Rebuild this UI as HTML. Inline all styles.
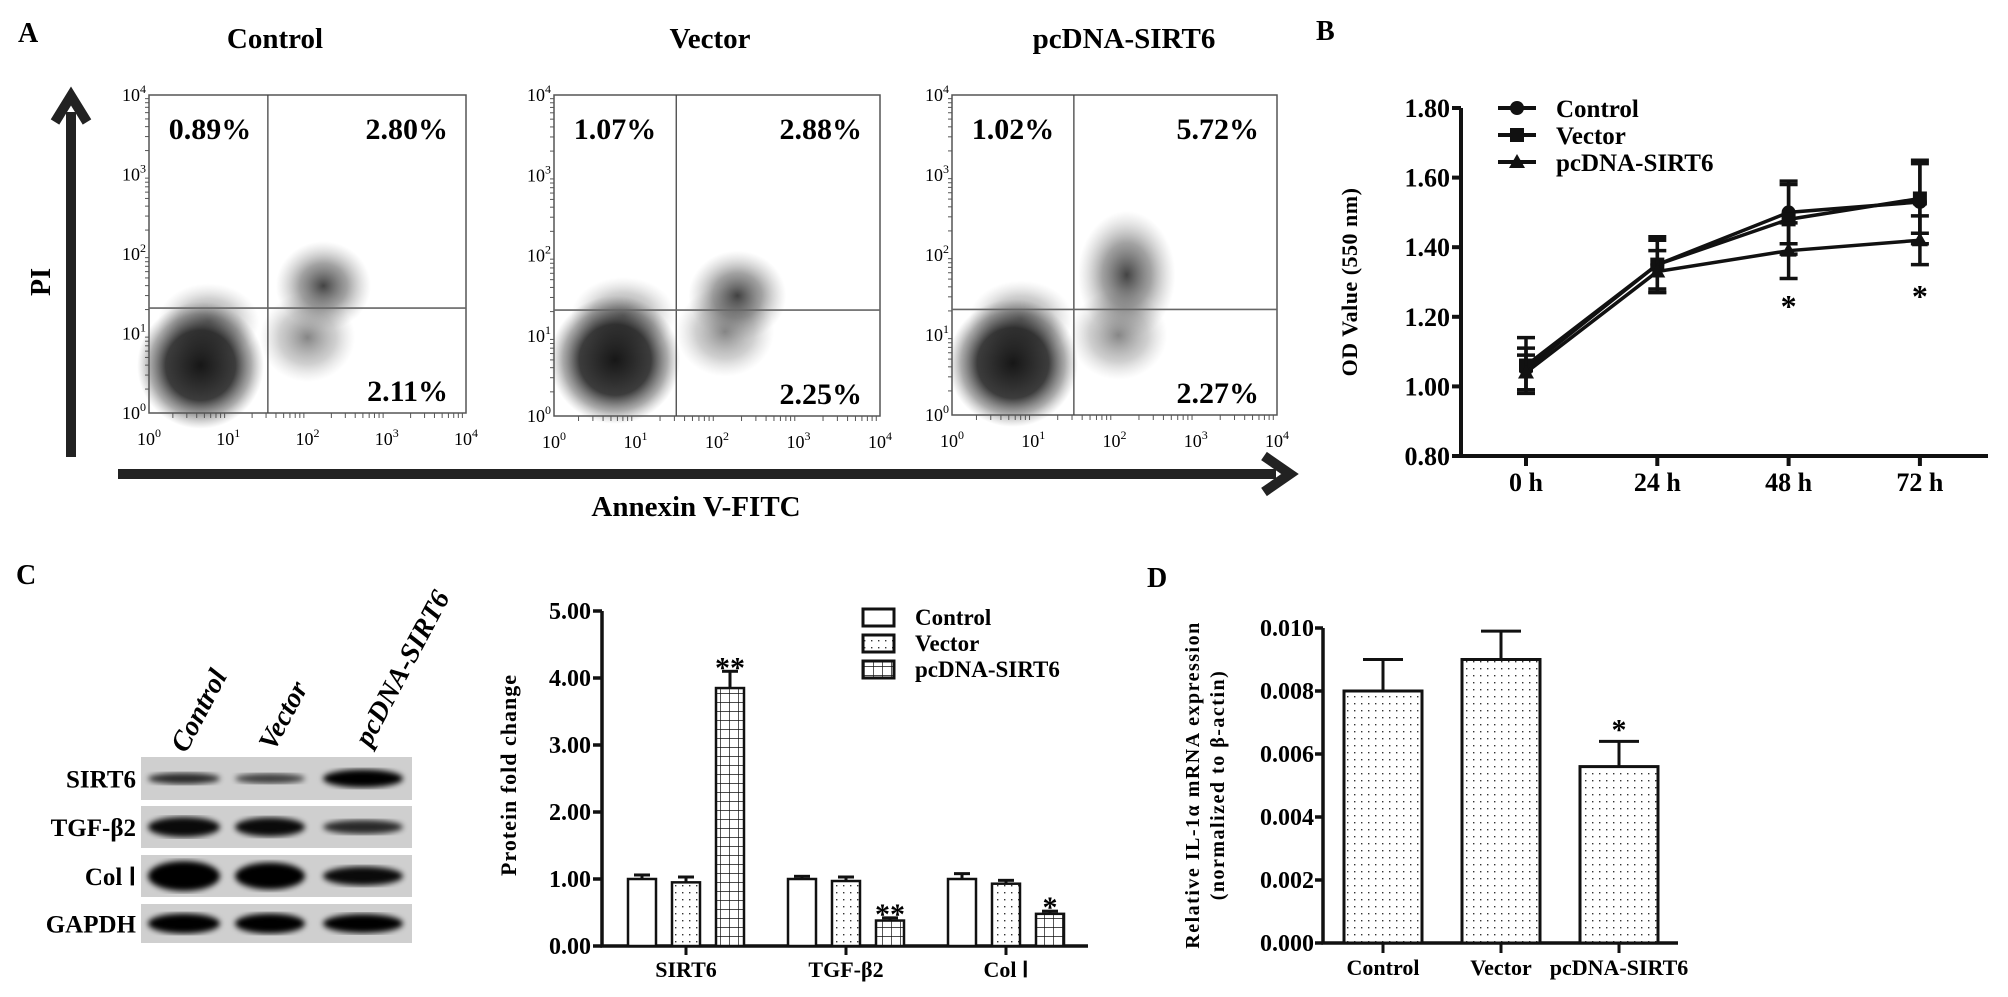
<!DOCTYPE html>
<html><head><meta charset="utf-8"><style>
html,body{margin:0;padding:0;background:#fff;}
svg{display:block;font-family:"Liberation Serif",serif;font-weight:bold;}
</style></head><body>
<svg id="fig" width="2008" height="997" viewBox="0 0 2008 997" xmlns="http://www.w3.org/2000/svg">
<defs>
<radialGradient id="gDark"><stop offset="0" stop-color="#0a0a0a" stop-opacity="0.95"/><stop offset="0.55" stop-color="#1a1a1a" stop-opacity="0.85"/><stop offset="0.8" stop-color="#444" stop-opacity="0.45"/><stop offset="1" stop-color="#777" stop-opacity="0"/></radialGradient>
<radialGradient id="gMid"><stop offset="0" stop-color="#222" stop-opacity="0.85"/><stop offset="0.5" stop-color="#555" stop-opacity="0.55"/><stop offset="1" stop-color="#999" stop-opacity="0"/></radialGradient>
<radialGradient id="gLight"><stop offset="0" stop-color="#444" stop-opacity="0.65"/><stop offset="0.6" stop-color="#777" stop-opacity="0.35"/><stop offset="1" stop-color="#aaa" stop-opacity="0"/></radialGradient>
<pattern id="dots" width="7" height="7" patternUnits="userSpaceOnUse"><rect width="7" height="7" fill="#fff"/><rect x="3" y="3" width="1.4" height="1.4" fill="#333"/></pattern>
<pattern id="grid" width="9" height="9" patternUnits="userSpaceOnUse"><rect width="9" height="9" fill="#fff"/><path d="M0 0H9M0 0V9" stroke="#111" stroke-width="1.4"/></pattern>
<filter id="blur3"><feGaussianBlur stdDeviation="3"/></filter>
<filter id="blur6"><feGaussianBlur stdDeviation="6"/></filter>
</defs>

<!-- Panel A -->
<g>
<text x="18" y="42" font-size="28">A</text>
<text x="275" y="48" font-size="29" text-anchor="middle">Control</text>
<text x="710" y="48" font-size="29" text-anchor="middle">Vector</text>
<text x="1124" y="48" font-size="29" text-anchor="middle">pcDNA-SIRT6</text>
<g id="flowPlots"></g>
<line x1="71" y1="457" x2="71" y2="112" stroke="#222" stroke-width="10"/>
<path d="M55 122 L71 96 L87 122" fill="none" stroke="#222" stroke-width="10" stroke-linejoin="miter"/>
<text transform="translate(50,282) rotate(-90)" font-size="28" text-anchor="middle">PI</text>
<line x1="118" y1="474" x2="1276" y2="474" stroke="#222" stroke-width="10"/>
<path d="M1264 456 L1290 474 L1264 492" fill="none" stroke="#222" stroke-width="10"/>
<text x="696" y="516" font-size="29" text-anchor="middle">Annexin V-FITC</text>
</g>

<!-- Panel B -->
<g>
<text x="1316" y="40" font-size="28">B</text>
<g id="lineChart"></g>
</g>

<!-- Panel C -->
<g>
<text x="16" y="584" font-size="28">C</text>
<g id="blot"></g>
<g id="barC"></g>
</g>

<!-- Panel D -->
<g>
<text x="1147" y="587" font-size="28">D</text>
<g id="barD"></g>
</g>
</svg>
<script>
const NS="http://www.w3.org/2000/svg";
function mk(tag,attrs,parent,txt){const e=document.createElementNS(NS,tag);for(const k in attrs)e.setAttribute(k,attrs[k]);if(txt!==undefined)e.textContent=txt;parent.appendChild(e);return e;}

// ---------- Panel A data ----------
const flowNames=["control","vector","pcdna-sirt6"];
const flowUL=["0.89%","1.07%","1.02%"];
const flowUR=["2.80%","2.88%","5.72%"];
const flowLR=["2.11%","2.25%","2.27%"];
const flowTicks=["0","1","2","3","4"];
const clLLx=[0.65,0.75,0.75], clLLy=[0.6,0.7,0.65];
const clURx=[2.2,2.25,2.15], clURy=[1.6,1.5,1.75];
const clLRx=[2.0,2.1,2.05], clLRy=[0.95,1.05,1.0];
const plotBoxes=[[149,95,466,413],[554,95,880,416],[952,95,1277,415]];
const gateX=[1.5,1.5,1.5], gateY=[1.32,1.32,1.32];
const fp=document.getElementById("flowPlots");
for(let i=0;i<3;i++){
  const [l,t,r,b]=plotBoxes[i];
  const sx=v=>l+(r-l)*v/4, sy=v=>b-(b-t)*v/4;
  const g=mk("g",{},fp);
  
  
  const e3=mk("ellipse",{cx:sx(clLRx[i]),cy:sy(clLRy[i]),rx:(r-l)*0.15,ry:(b-t)*0.14,fill:"url(#gLight)"},g);
  
  
  const e2=mk("ellipse",{cx:sx(clURx[i]),cy:sy(clURy[i]),rx:(r-l)*0.15,ry:(b-t)*(i==2?0.2:0.14),fill:"url(#gMid)"},g);
  
  
  mk("ellipse",{cx:sx(clLLx[i]+0.1),cy:sy(clLLy[i]+0.55),rx:(r-l)*0.16,ry:(b-t)*0.12,fill:"url(#gLight)"},g);
  const e1=mk("ellipse",{cx:sx(clLLx[i]),cy:sy(clLLy[i]),rx:(r-l)*0.2,ry:(b-t)*0.2,fill:"url(#gDark)"},g);
  
  
  mk("rect",{x:l,y:t,width:r-l,height:b-t,fill:"none",stroke:"#fff","stroke-width":0},g);
  const fr=mk("rect",{x:l,y:t,width:r-l,height:b-t,fill:"none",stroke:"#555","stroke-width":1.5},g);
  
  
  mk("line",{x1:sx(gateX[i]),y1:t,x2:sx(gateX[i]),y2:b,stroke:"#444","stroke-width":1.3},g);
  mk("line",{x1:l,y1:sy(gateY[i]),x2:r,y2:sy(gateY[i]),stroke:"#666","stroke-width":1.6},g);
  for(let k=0;k<5;k++){
    const tx=mk("text",{x:sx(k),y:b+32,"font-size":18,"text-anchor":"middle","font-weight":"normal"},g);
    tx.textContent="10";mk("tspan",{dy:-8,"font-size":12},tx,flowTicks[k]);
    const ty=mk("text",{x:l-3,y:sy(k)+6,"font-size":18,"text-anchor":"end","font-weight":"normal"},g);
    ty.textContent="10";mk("tspan",{dy:-8,"font-size":12},ty,flowTicks[k]);
    for(let m=2;m<10&&k<4;m++){const d=Math.log10(m);
      mk("line",{x1:sx(k+d),y1:b,x2:sx(k+d),y2:b+5,stroke:"#555"},g);
      mk("line",{x1:l,y1:sy(k+d),x2:l-4,y2:sy(k+d),stroke:"#555"},g);}
  }
  const a=mk("text",{x:l+61,y:t+44,"font-size":30,"text-anchor":"middle"},g,flowUL[i]);
  
  
  const c=mk("text",{x:r-18,y:t+44,"font-size":30,"text-anchor":"end"},g,flowUR[i]);
  
  
  const d=mk("text",{x:r-18,y:b-12,"font-size":30,"text-anchor":"end"},g,flowLR[i]);
  
  
}

// ---------- Panel B ----------
const timeLabels=["0 h","24 h","48 h","72 h"];
const odTicks=[0.80,1.00,1.20,1.40,1.60,1.80];
const seriesNames=["Control","Vector","pcDNA-SIRT6"];
const odControl=[1.05,1.35,1.50,1.53];
const odVector=[1.06,1.35,1.48,1.54];
const odSirt6=[1.04,1.33,1.39,1.42];
const errControl=[0.06,0.07,0.09,0.12];
const errVector=[0.08,0.08,0.10,0.10];
const errSirt6=[0.05,0.06,0.08,0.07];
const sigB=["","","*","*"];
(function(){
  const g=document.getElementById("lineChart");
  const X0=1461,Y0=456,Y1=108;
  const yS=v=>Y0-(v-0.8)/(1.0)*(Y0-Y1);
  const xS=i=>1526+i*131.3;
  const ax=mk("path",{d:`M${X0} ${Y1} V${Y0} H1988`,fill:"none",stroke:"#111","stroke-width":4},g);
  
  
  odTicks.forEach(v=>{mk("line",{x1:X0-9,y1:yS(v),x2:X0,y2:yS(v),stroke:"#111","stroke-width":4},g);
    const t=mk("text",{x:X0-11,y:yS(v)+9,"font-size":26,"text-anchor":"end"},g,v.toFixed(2));
    
    });
  timeLabels.forEach((s,i)=>{mk("line",{x1:xS(i),y1:Y0,x2:xS(i),y2:Y0+10,stroke:"#111","stroke-width":4},g);
    const t=mk("text",{x:xS(i),y:Y0+35,"font-size":26,"text-anchor":"middle"},g,s);
    
    });
  const yt=mk("text",{transform:`translate(1357,282) rotate(-90)`,"font-size":22,"text-anchor":"middle","letter-spacing":"0.5"},g,"OD Value (550 nm)");
  
  
  const all=[odControl,odVector,odSirt6],errs=[errControl,errVector,errSirt6];
  const marker=(k,x,y,p)=>{if(k==0)return mk("circle",{cx:x,cy:y,r:7,fill:"#111"},p);
    if(k==1)return mk("rect",{x:x-7,y:y-7,width:14,height:14,fill:"#111"},p);
    return mk("path",{d:`M${x} ${y-8} L${x+8} ${y+6} L${x-8} ${y+6}Z`,fill:"#111"},p);};
  all.forEach((s,k)=>{
    const sg=mk("g",{},g);
    
    
    mk("polyline",{points:s.map((v,i)=>xS(i)+","+yS(v)).join(" "),fill:"none",stroke:"#111","stroke-width":3.5},sg);
    s.forEach((v,i)=>{const e=errs[k][i];
      mk("line",{x1:xS(i),y1:yS(v-e),x2:xS(i),y2:yS(v+e),stroke:"#111","stroke-width":3.5},sg);
      mk("line",{x1:xS(i)-9,y1:yS(v-e),x2:xS(i)+9,y2:yS(v-e),stroke:"#111","stroke-width":3.5},sg);
      mk("line",{x1:xS(i)-9,y1:yS(v+e),x2:xS(i)+9,y2:yS(v+e),stroke:"#111","stroke-width":3.5},sg);
      const m=marker(k,xS(i),yS(v),sg);
      
      });
  });
  sigB.forEach((s,i)=>{if(s){const t=mk("text",{x:xS(i),y:(i==2?317:307),"font-size":32,"text-anchor":"middle"},g,s);
    
    }});
  seriesNames.forEach((n,k)=>{const y=108+k*27;
    const lg=mk("g",{},g);
    
    
    mk("line",{x1:1498,y1:y,x2:1536,y2:y,stroke:"#111","stroke-width":4},lg);
    marker(k,1517,y,lg);
    mk("text",{x:1556,y:y+9,"font-size":25},lg,n);});
})();

// ---------- Panel C blot ----------
const blotRows=["SIRT6","TGF-β2","Col Ⅰ","GAPDH"];
const lanes=["Control","Vector","pcDNA-SIRT6"];
const bandInt=[[0.8,0.7,1.0],[0.95,0.95,0.8],[1.0,1.0,0.95],[1.0,1.0,1.0]];
const bandH=[[9,8,16],[18,17,12],[28,25,17],[18,18,17]];
(function(){
  const g=document.getElementById("blot");
  const rowsY=[[757,800],[806,848],[855,897],[904,943]];
  const laneX=[184,270,363], laneW=[72,70,80];
  rowsY.forEach((r,i)=>{
    mk("rect",{x:141,y:r[0],width:271,height:r[1]-r[0],fill:"#cfcfcf"},g);
    const t=mk("text",{x:136,y:(r[0]+r[1])/2+9,"font-size":25,"text-anchor":"end"},g,blotRows[i]);
    
    
    lanes.forEach((l,j)=>{const b=mk("ellipse",{cx:laneX[j],cy:(r[0]+r[1])/2,rx:laneW[j]/2,ry:bandH[i][j]/2+1,fill:"#050505",opacity:bandInt[i][j],filter:"url(#blur3)"},g);
      
      });
  });
  const pos=[[186,754],[274,752],[370,748]];
  lanes.forEach((l,j)=>{const t=mk("text",{transform:`translate(${pos[j][0]},${pos[j][1]}) rotate(-62)`,"font-size":28,"font-style":"italic"},g,l);
    
    });
})();

// ---------- Panel C bars ----------
const proteinCats=["SIRT6","TGF-β2","Col Ⅰ"];
const foldControl=[1.00,1.00,1.00];
const foldVector=[0.95,0.97,0.93];
const foldSirt6=[3.85,0.38,0.48];
const foldErrControl=[0.06,0.04,0.08];
const foldErrVector=[0.08,0.06,0.05];
const foldErrSirt6=[0.25,0.04,0.04];
const foldTicks=[0,1,2,3,4,5];
const sigC=["**","**","*"];
(function(){
  const g=document.getElementById("barC");
  const X0=602,Y0=946,Y5=611;
  const yS=v=>Y0-v*(Y0-Y5)/5;
  const cx=i=>686+i*160;
  mk("path",{d:`M${X0} ${Y5} V${Y0} H1088`,fill:"none",stroke:"#111","stroke-width":3.5},g);
  foldTicks.forEach(v=>{mk("line",{x1:X0-9,y1:yS(v),x2:X0,y2:yS(v),stroke:"#111","stroke-width":3.5},g);
    const t=mk("text",{x:X0-11,y:yS(v)+8,"font-size":24,"text-anchor":"end"},g,v.toFixed(2));
    
    });
  const yt=mk("text",{transform:"translate(516,775) rotate(-90)","font-size":22,"text-anchor":"middle","letter-spacing":"1"},g,"Protein fold change");
  
  
  const sets=[foldControl,foldVector,foldSirt6],errs=[foldErrControl,foldErrVector,foldErrSirt6],fills=["#fff","url(#dots)","url(#grid)"];
  const names=["control","vector","pcdna-sirt6"];
  proteinCats.forEach((c,i)=>{
    mk("line",{x1:cx(i),y1:Y0,x2:cx(i),y2:Y0+9,stroke:"#111","stroke-width":3},g);
    const t=mk("text",{x:cx(i),y:977,"font-size":22,"text-anchor":"middle"},g,c);
    
    
    sets.forEach((s,k)=>{const x=cx(i)+(k-1)*44,v=s[i],e=errs[k][i];
      mk("line",{x1:x,y1:yS(v),x2:x,y2:yS(v+e),stroke:"#111","stroke-width":3},g);
      mk("line",{x1:x-8,y1:yS(v+e),x2:x+8,y2:yS(v+e),stroke:"#111","stroke-width":3},g);
      const b=mk("rect",{x:x-14,y:yS(v),width:28,height:Y0-yS(v),fill:fills[k],stroke:"#111","stroke-width":2.5},g);
      
      });
    const sx=cx(i)+44, ve=foldSirt6[i]+foldErrSirt6[i];
    const st=mk("text",{x:sx,y:yS(ve)+6,"font-size":30,"text-anchor":"middle"},g,sigC[i]);
    
    
  });
  ["Control","Vector","pcDNA-SIRT6"].forEach((n,k)=>{const y=617+k*26;
    const lg=mk("g",{},g);
    
    
    mk("rect",{x:863,y:y-8,width:31,height:17,fill:fills[k],stroke:"#111","stroke-width":3},lg);
    mk("text",{x:915,y:y+8,"font-size":23},lg,n);});
})();

// ---------- Panel D ----------
const dCats=["Control","Vector","pcDNA-SIRT6"];
const ilValues=[0.0080,0.0090,0.0056];
const ilErr=[0.0010,0.0009,0.0008];
const ilTicks=[0,0.002,0.004,0.006,0.008,0.010];
const sigD=["","","*"];
(function(){
  const g=document.getElementById("barD");
  const X0=1323,Y0=943,Y1=628;
  const yS=v=>Y0-v/0.010*(Y0-Y1);
  const cx=i=>1383+i*118;
  mk("path",{d:`M${X0} ${Y1} V${Y0} H1678`,fill:"none",stroke:"#111","stroke-width":3.5},g);
  ilTicks.forEach(v=>{mk("line",{x1:X0-8,y1:yS(v),x2:X0,y2:yS(v),stroke:"#111","stroke-width":3.5},g);
    const t=mk("text",{x:X0-9,y:yS(v)+8,"font-size":24,"text-anchor":"end"},g,v.toFixed(3));
    
    });
  const t1=mk("text",{transform:"translate(1199,785) rotate(-90)","font-size":20,"text-anchor":"middle","letter-spacing":"1.5"},g,"Relative IL-1α mRNA expression");
  
  
  const t2=mk("text",{transform:"translate(1224,785) rotate(-90)","font-size":20,"text-anchor":"middle","letter-spacing":"1.5"},g,"(normalized to β-actin)");
  
  
  dCats.forEach((c,i)=>{const x=cx(i),v=ilValues[i],e=ilErr[i];
    mk("line",{x1:x,y1:Y0,x2:x,y2:Y0+10,stroke:"#111","stroke-width":3},g);
    mk("line",{x1:x,y1:yS(v),x2:x,y2:yS(v+e),stroke:"#111","stroke-width":3},g);
    mk("line",{x1:x-20,y1:yS(v+e),x2:x+20,y2:yS(v+e),stroke:"#111","stroke-width":3},g);
    const b=mk("rect",{x:x-39,y:yS(v),width:78,height:Y0-yS(v),fill:"url(#dots)",stroke:"#111","stroke-width":3},g);
    
    
    const t=mk("text",{x:x,y:975,"font-size":22,"text-anchor":"middle"},g,c);
    
    
    if(sigD[i]){const s=mk("text",{x:x,y:yS(v+e)-2,"font-size":30,"text-anchor":"middle"},g,sigD[i]);
      
      }
  });
})();
</script>
</body></html>
